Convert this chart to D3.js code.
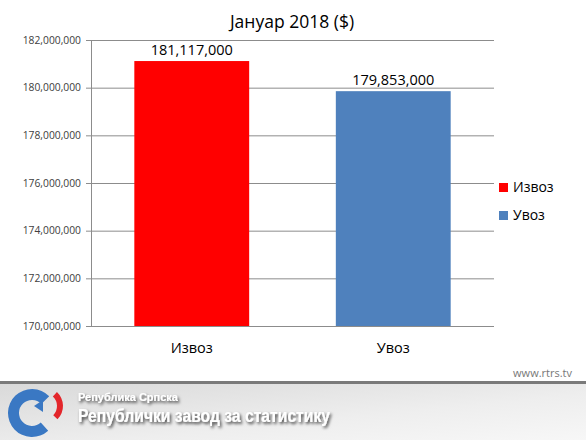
<!DOCTYPE html>
<html><head><meta charset="utf-8">
<script src="https://cdn.jsdelivr.net/npm/d3@7"></script>
<style>body{margin:0;background:#fff}svg{display:block}</style>
</head><body>
<script>
const title = "Јануар 2018 ($)";
const categories = ["Извоз", "Увоз"];
const values = [181117000, 179853000];
const colors = ["#ff0000", "#4f81bd"];
const yTicks = [170000000,172000000,174000000,176000000,178000000,180000000,182000000];
const footerSmall = "Република Српска";
const footerBig = "Републички завод за статистику";
const site = "www.rtrs.tv";

const W=586,H=440;
const font = "'Open Sans', 'Noto Sans', sans-serif";
const svg = d3.select("body").append("svg").attr("width",W).attr("height",H);
const m={l:91,r:494,t:40,b:326};
const x=d3.scaleBand().domain(categories).range([m.l,m.r]).paddingInner(0.43).paddingOuter(0.215);
const y=d3.scaleLinear().domain([170000000,182000000]).range([m.b,m.t]);
const fmt=d3.format(",");

svg.append("text").attr("x",292).attr("y",28).attr("text-anchor","middle")
  .style("font-family",font).style("font-size","17.5px").attr("fill","#000").text(title);

// gridlines
svg.append("g").selectAll("line").data(yTicks).join("line")
  .attr("x1",m.l-5).attr("x2",m.r).attr("y1",d=>y(d)+0.5).attr("y2",d=>y(d)+0.5)
  .attr("stroke","#8c8c8c").attr("stroke-width",1);
const ya=svg.append("g").attr("transform",`translate(${m.l},0)`)
  .call(d3.axisLeft(y).tickValues(yTicks).tickFormat(fmt).tickSize(0).tickPadding(10));
ya.select(".domain").attr("stroke","#8c8c8c").attr("d",`M0.5,${m.t}V${m.b}`);
ya.selectAll("text").style("font-family",font).style("font-size","10.3px").attr("fill","#404040");

// bars
svg.append("g").selectAll("rect").data(categories).join("rect")
  .attr("x",d=>x(d)).attr("width",x.bandwidth())
  .attr("y",(d,i)=>y(values[i])).attr("height",(d,i)=>y(170000000)-y(values[i]))
  .attr("fill",(d,i)=>colors[i]);
svg.append("line").attr("x1",m.l).attr("x2",m.r).attr("y1",m.b+0.5).attr("y2",m.b+0.5).attr("stroke","#8c8c8c");

// data labels
svg.append("g").selectAll("text").data(categories).join("text")
  .attr("x",d=>x(d)+x.bandwidth()/2).attr("y",(d,i)=>y(values[i])-6)
  .attr("text-anchor","middle").style("font-family",font).style("font-size","14.5px").attr("fill","#000")
  .text((d,i)=>fmt(values[i]));

// x axis labels
const xa=svg.append("g").attr("transform",`translate(0,${m.b})`)
  .call(d3.axisBottom(x).tickSize(0).tickPadding(17));
xa.select(".domain").remove();
xa.selectAll("text").style("font-family",font).style("font-size","14.5px").attr("fill","#000");

// legend
const lg=svg.append("g").selectAll("g").data(categories).join("g")
  .attr("transform",(d,i)=>`translate(499,${192+i*28})`);
lg.append("rect").attr("x",0).attr("y",-9).attr("width",9).attr("height",9).attr("fill",(d,i)=>colors[i]);
lg.append("text").attr("x",14).attr("y",0).style("font-family",font).style("font-size","14px").attr("fill","#000").text(d=>d);

// footer
svg.append("text").attr("x",572).attr("y",377).attr("text-anchor","end")
  .style("font-family",font).style("font-size","11px").attr("fill","#777").text(site);
const defs=svg.append("defs");
const gr=defs.append("linearGradient").attr("id","fg").attr("x1","0").attr("x2","1").attr("y1","0").attr("y2","1");
gr.append("stop").attr("offset","0").attr("stop-color","#d9d9d9");
gr.append("stop").attr("offset","0.6").attr("stop-color","#eeeeee");
gr.append("stop").attr("offset","1").attr("stop-color","#f7f7f7");
const f=defs.append("filter").attr("id","sh").attr("x","-10%").attr("y","-30%").attr("width","130%").attr("height","180%");
f.append("feDropShadow").attr("dx",1.5).attr("dy",2).attr("stdDeviation",1.5).attr("flood-color","#000").attr("flood-opacity",0.75);
svg.append("rect").attr("x",0).attr("y",383).attr("width",W).attr("height",H-383).attr("fill","url(#fg)");
svg.append("rect").attr("x",0).attr("y",381).attr("width",W).attr("height",3).attr("fill","#7a7a7a");

// logo
const arc=d3.arc();
svg.append("path").attr("transform","translate(32,413)")
  .attr("d",arc({innerRadius:13,outerRadius:24,startAngle:2.4,endAngle:2*Math.PI+0.8}))
  .attr("fill","#3a78c3");
svg.append("path").attr("d","M34,406 L43,400 L43,412 Z").attr("fill","#3a78c3");
svg.append("path").attr("transform","translate(44,406)")
  .attr("d",arc({innerRadius:13,outerRadius:19,startAngle:0.75,endAngle:2.35}))
  .attr("fill","#e3262b");

svg.append("text").attr("x",78).attr("y",401).style("font-family","'Liberation Sans', Arial, sans-serif").style("font-size","11px")
  .style("font-weight","bold").attr("fill","#fff").attr("filter","url(#sh)")
  .attr("textLength",100).attr("lengthAdjust","spacingAndGlyphs").text(footerSmall);
svg.append("text").attr("x",78).attr("y",422).style("font-family","'Liberation Sans', Arial, sans-serif").style("font-size","18px")
  .style("font-weight","bold").attr("fill","#fff").attr("filter","url(#sh)")
  .attr("textLength",252).attr("lengthAdjust","spacingAndGlyphs").text(footerBig);
</script>
</body></html>
